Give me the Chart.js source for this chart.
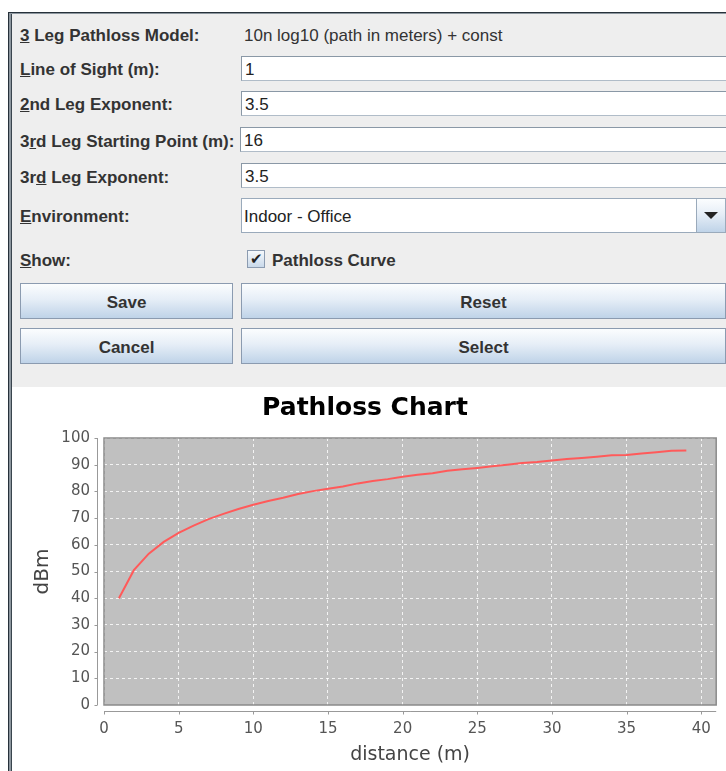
<!DOCTYPE html>
<html lang="en">
<head>
<meta charset="UTF-8">
<title>Pathloss Chart</title>
<style>
  body {
    margin: 0;
    width: 726px;
    height: 771px;
    background: #fff;
    overflow: hidden;
    font-family: "Liberation Sans", Arial, sans-serif;
    position: relative;
  }
  .frame {
    position: absolute;
    left: 8px;
    top: 12px;
    width: 730px;
    height: 770px;
    border-left: 1px solid #26313a;
    border-top: 1px solid #26313a;
    box-shadow: inset 2px 1px 0 #8c969e, inset 3px 2px 0 #3a454e;
  }
  .panel {
    position: absolute;
    left: 12px;
    top: 14px;
    width: 714px;
    height: 373px;
    background: #eeeeee;
  }
  .lbl, .val {
    position: absolute;
    font-size: 17px;
    color: #333;
    line-height: 20px;
    white-space: nowrap;
  }
  .lbl { left: 20px; font-weight: bold; }
  .val { font-weight: normal; }
  .field {
    position: absolute;
    left: 241px;
    width: 482px;
    height: 23px;
    background: #fff;
    border: 1px solid #8a98a6;
    border-right-color: #c8d0d8;
    border-bottom-color: #b0bcc8;
    font-size: 17px;
    line-height: 25px;
    padding-left: 3px;
    color: #222;
    box-sizing: content-box;
  }
  .btn {
    position: absolute;
    height: 36px;
    border: 1px solid #8b9bb0;
    background: linear-gradient(#fbfdfe, #e6eef7 45%, #bfd3e8);
    font-weight: bold;
    font-size: 17px;
    color: #333;
    text-align: center;
    line-height: 37px;
    box-sizing: border-box;
  }
  .combo {
    position: absolute;
    left: 241px;
    top: 198px;
    width: 485px;
    height: 35px;
    border: 1px solid #9aaabb;
    background: #fff;
    box-sizing: border-box;
  }
  .combo .txt {
    position: absolute;
    left: 2px;
    top: 8px;
    font-size: 17px;
    color: #222;
    line-height: 20px;
  }
  .combo .arrow {
    position: absolute;
    right: 0;
    top: 0;
    width: 28px;
    height: 33px;
    border-left: 1px solid #9aaabb;
    background: linear-gradient(#fbfdfe, #e6eef7 45%, #bfd3e8);
  }
  .combo .arrow:after {
    content: "";
    position: absolute;
    left: 7px;
    top: 13px;
    border-left: 7px solid transparent;
    border-right: 7px solid transparent;
    border-top: 7px solid #222;
  }
  .check {
    position: absolute;
    left: 247px;
    top: 250px;
    width: 18px;
    height: 18px;
    border: 1px solid #8b9bb0;
    background: linear-gradient(#f6f9fc, #c9d9ea);
    box-sizing: border-box;
    font-size: 15px;
    line-height: 16px;
    text-align: center;
    color: #222;
  }
  #chartBox {
    position: absolute;
    left: 12px;
    top: 388px;
    width: 714px;
    height: 383px;
  }
</style>
</head>
<body>
<div class="frame"></div>
<div class="panel"></div>

<div class="lbl" style="top:26px"><u>3</u> Leg Pathloss Model:</div>
<div class="val" style="left:244px; top:26px">10n log10 (path in meters) + const</div>

<div class="lbl" style="top:60px"><u>L</u>ine of Sight (m):</div>
<div class="field" style="top:56px">1</div>

<div class="lbl" style="top:95px"><u>2</u>nd Leg Exponent:</div>
<div class="field" style="top:91px">3.5</div>

<div class="lbl" style="top:132px">3<u>r</u>d Leg Starting Point (m):</div>
<div class="field" style="top:127px; left:240px; width:483px">16</div>

<div class="lbl" style="top:168px">3r<u>d</u> Leg Exponent:</div>
<div class="field" style="top:163px">3.5</div>

<div class="lbl" style="top:207px"><u>E</u>nvironment:</div>
<div class="combo"><span class="txt">Indoor - Office</span><div class="arrow"></div></div>

<div class="lbl" style="top:251px"><u>S</u>how:</div>
<div class="check">&#10004;</div>
<div class="val" style="left:272px; top:251px; font-weight:bold">Pathloss Curve</div>

<div class="btn" style="left:20px; top:283px; width:213px">Save</div>
<div class="btn" style="left:241px; top:283px; width:485px">Reset</div>
<div class="btn" style="left:20px; top:328px; width:213px">Cancel</div>
<div class="btn" style="left:241px; top:328px; width:485px">Select</div>

<div id="chartBox"><canvas id="chart"></canvas></div>

<script src="https://cdn.jsdelivr.net/npm/chart.js"></script>
<script>
// distance (m) and pathloss (dBm)
const distances = [1, 2, 3, 4, 5, 6, 7, 8, 9, 10, 11, 12, 13, 14, 15, 16, 17, 18, 19, 20,
  21, 22, 23, 24, 25, 26, 27, 28, 29, 30, 31, 32, 33, 34, 35, 36, 37, 38, 39];
const pathloss = [40, 50.5, 56.7, 61.1, 64.5, 67.2, 69.6, 71.6, 73.4, 75, 76.4, 77.6, 79, 80.1, 81, 81.8, 83, 83.9, 84.6, 85.5,
  86.2, 86.8, 87.7, 88.3, 88.8, 89.4, 90, 90.6, 91, 91.6, 92.1, 92.5, 93, 93.5, 93.6, 94.2, 94.7, 95.2, 95.3];
const xTicks = [0, 5, 10, 15, 20, 25, 30, 35, 40];
const yTicks = [0, 10, 20, 30, 40, 50, 60, 70, 80, 90, 100];

// grey plot background, border and the offset axis lines
const plotFrame = {
  id: 'plotFrame',
  beforeDraw(chart) {
    const { ctx, chartArea: a } = chart;
    ctx.save();
    ctx.fillStyle = '#c0c0c0';
    ctx.fillRect(a.left, a.top, a.right - a.left, a.bottom - a.top);
    ctx.restore();
  },
  afterDatasetsDraw(chart) {
    const { ctx, chartArea: a, scales } = chart;
    ctx.save();
    ctx.strokeStyle = '#8a8a8a';
    ctx.lineWidth = 1.5;
    ctx.strokeRect(a.left, a.top, a.right - a.left, a.bottom - a.top);

    ctx.strokeStyle = '#999';
    ctx.lineWidth = 1;
    // y axis line
    const ax = a.left - 6.5;
    ctx.beginPath();
    ctx.moveTo(ax, a.top);
    ctx.lineTo(ax, a.bottom);
    yTicks.forEach(v => {
      const py = Math.round(scales.y.getPixelForValue(v)) + 0.5;
      ctx.moveTo(ax - 3, py);
      ctx.lineTo(ax, py);
    });
    // x axis line
    const ay = a.bottom + 6.5;
    ctx.moveTo(a.left, ay);
    ctx.lineTo(a.right, ay);
    xTicks.forEach(v => {
      const px = Math.round(scales.x.getPixelForValue(v)) + 0.5;
      ctx.moveTo(px, ay);
      ctx.lineTo(px, ay + 3);
    });
    ctx.stroke();
    ctx.restore();
  }
};

new Chart(document.getElementById('chart'), {
  type: 'line',
  data: {
    datasets: [{
      label: 'Pathloss',
      data: distances.map((d, i) => ({ x: d, y: pathloss[i] })),
      borderColor: '#ff5a5a',
      borderWidth: 2,
      pointRadius: 0,
      tension: 0,
      fill: false
    }]
  },
  options: {
    responsive: true,
    maintainAspectRatio: false,
    animation: false,
    layout: { padding: { left: 0, right: 8, top: 0, bottom: 0 } },
    plugins: {
      legend: { display: false },
      tooltip: { enabled: false },
      title: {
        display: true,
        text: 'Pathloss Chart',
        color: '#000',
        font: { family: 'DejaVu Sans', size: 25, weight: 'bold' },
        padding: { top: 5, bottom: 15 }
      }
    },
    scales: {
      x: {
        type: 'linear',
        min: 0,
        max: 41,
        afterBuildTicks: s => { s.ticks = xTicks.map(v => ({ value: v })); },
        afterFit: s => { s.height = 66; },
        border: { display: false, dash: [3, 3] },
        grid: { color: 'rgba(255,255,255,0.8)', lineWidth: 1, drawTicks: false },
        ticks: { color: '#555', padding: 15, font: { family: 'DejaVu Sans', size: 15 }, maxRotation: 0 },
        title: {
          display: true,
          text: 'distance (m)',
          color: '#444',
          font: { family: 'DejaVu Sans', size: 19 },
          padding: { top: 0, bottom: 5 }
        }
      },
      y: {
        type: 'linear',
        min: 0,
        max: 100,
        afterBuildTicks: s => { s.ticks = yTicks.map(v => ({ value: v })); },
        afterFit: s => { s.width = 92; },
        border: { display: false, dash: [3, 3] },
        grid: { color: 'rgba(255,255,255,0.8)', lineWidth: 1, drawTicks: false },
        ticks: { color: '#555', padding: 14, font: { family: 'DejaVu Sans', size: 15 } },
        title: {
          display: true,
          text: 'dBm',
          color: '#444',
          font: { family: 'DejaVu Sans', size: 20 },
          padding: { top: 19, bottom: 0 }
        }
      }
    }
  },
  plugins: [plotFrame]
});
</script>
</body>
</html>
